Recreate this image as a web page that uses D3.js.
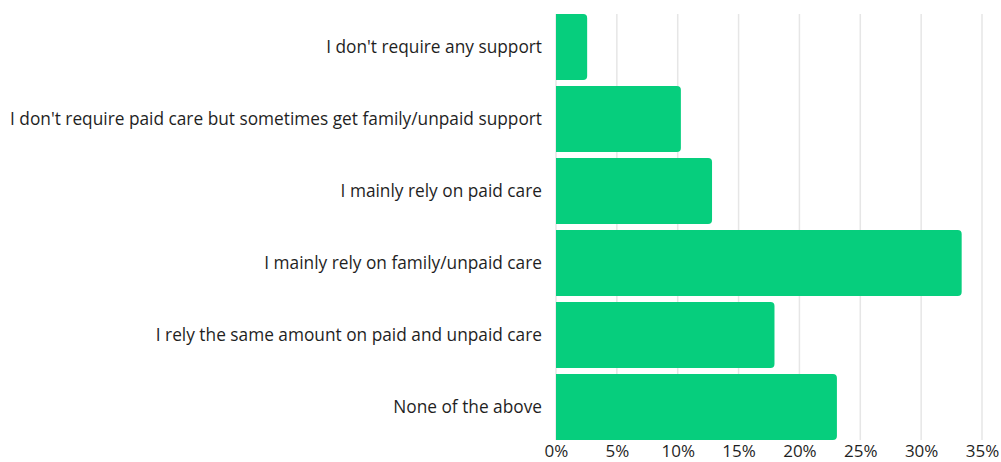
<!DOCTYPE html>
<html>
<head>
<meta charset="utf-8">
<script src="https://cdn.jsdelivr.net/npm/d3@7"></script>
<style>
  html, body { margin: 0; padding: 0; background: #ffffff; }
  svg { display: block; }
  text { font-family: "Open Sans", sans-serif; fill: #1f1f1f; }
</style>
</head>
<body>
<svg id="chart" width="1001" height="462"></svg>
<script>
// Care support responses (share of respondents)
const categories = [
  "I don't require any support",
  "I don't require paid care but sometimes get family/unpaid support",
  "I mainly rely on paid care",
  "I mainly rely on family/unpaid care",
  "I rely the same amount on paid and unpaid care",
  "None of the above"
];
const values = [2.56, 10.26, 12.82, 33.33, 17.95, 23.08];
const tickValues = [0, 5, 10, 15, 20, 25, 30, 35];

const svg = d3.select("#chart");
const margin = { top: 14, right: 19, bottom: 23, left: 556 };
const width = 1001 - margin.left - margin.right;
const height = 462 - margin.top - margin.bottom;

const x = d3.scaleLinear().domain([0, 35]).range([0, width]);
const y = d3.scaleBand().domain(categories).range([0, 426]).paddingInner(6 / 72).paddingOuter(0);

const g = svg.append("g").attr("transform", `translate(${margin.left},${margin.top})`);

// vertical gridlines
g.append("g")
  .selectAll("line")
  .data(tickValues)
  .join("line")
  .attr("x1", d => x(d)).attr("x2", d => x(d))
  .attr("y1", 0).attr("y2", 426)
  .attr("stroke", "#e6e6e6")
  .attr("stroke-width", 1.5);

// bars: square left edge, rounded right corners
const r = 4;
g.append("g")
  .selectAll("path")
  .data(categories.map((c, i) => ({ c, v: values[i] })))
  .join("path")
  .attr("fill", "#06ce7d")
  .attr("d", d => {
    const x0 = x(0), x1 = x(d.v), y0 = y(d.c), y1 = y0 + y.bandwidth();
    return `M${x0},${y0}H${x1 - r}Q${x1},${y0} ${x1},${y0 + r}V${y1 - r}Q${x1},${y1} ${x1 - r},${y1}H${x0}Z`;
  });

// category labels
g.append("g")
  .selectAll("text")
  .data(categories)
  .join("text")
  .attr("x", -14)
  .attr("y", d => y(d) + y.bandwidth() / 2)
  .attr("dy", "0.35em")
  .attr("text-anchor", "end")
  .attr("font-size", 17.3)
  .text(d => d);

// x axis
const xAxis = d3.axisBottom(x).tickValues(tickValues).tickFormat(d => d + "%").tickSize(0).tickPadding(0);
const ax = g.append("g").attr("transform", `translate(0,${height})`).call(xAxis);
ax.select(".domain").remove();
ax.selectAll("text")
  .attr("font-size", 17)
  .attr("y", 6)
  .attr("dy", "0.71em")
  .style("font-family", "\"Open Sans\", sans-serif")
  .style("fill", "#1f1f1f");
</script>
</body>
</html>
